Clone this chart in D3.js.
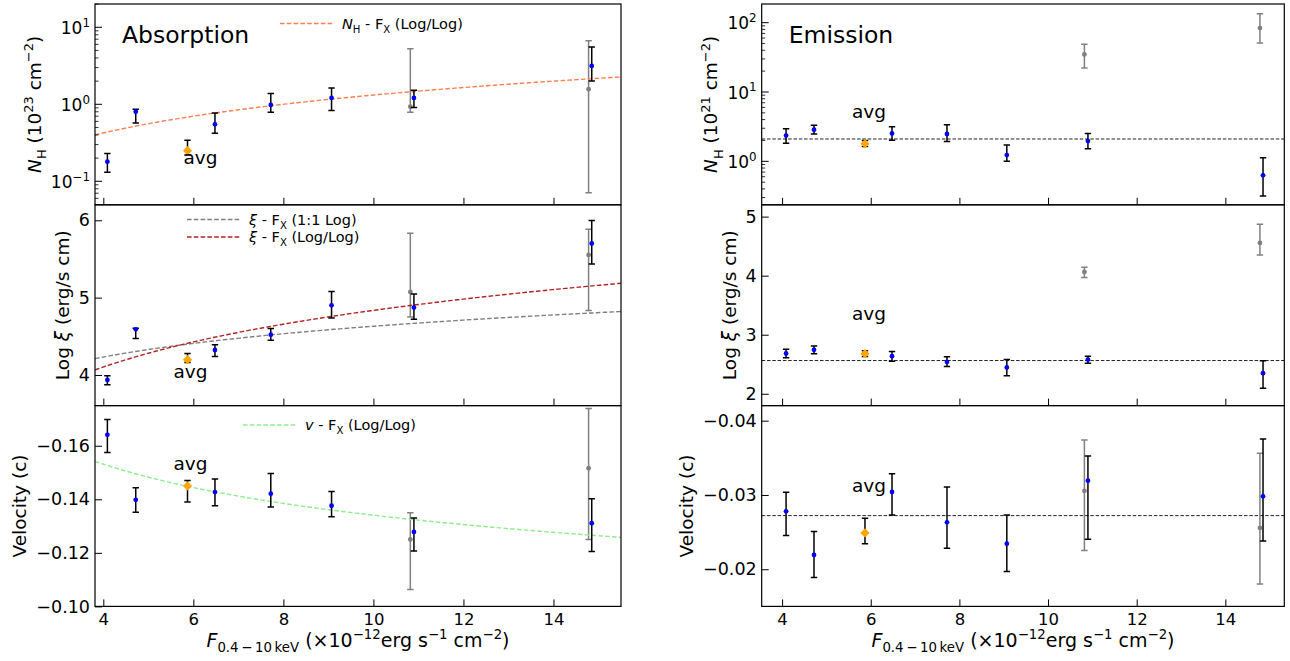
<!DOCTYPE html>
<html><head><meta charset="utf-8">
<script src="https://cdn.jsdelivr.net/npm/d3@7"></script>
<style>
html,body{margin:0;padding:0;background:#fff;}
svg{display:block;font-family:"DejaVu Sans",sans-serif;}
</style></head>
<body>
<svg id="c" width="1290" height="661"></svg>
<script>
// ---------------- DATA ----------------
const flux      = [4.09, 4.72, 6.48, 7.72, 9.07, 10.90, 14.85];
const avgFlux   = 5.87;
const grayFlux  = [10.82, 14.78];
const xTicks    = [4, 6, 8, 10, 12, 14];

// Absorption
const absNH     = [0.18, 0.80, 0.55, 0.98, 1.21, 1.21, 3.15];
const absNHlo   = [0.131, 0.57, 0.42, 0.79, 0.83, 0.91, 2.01];
const absNHhi   = [0.229, 0.86, 0.77, 1.38, 1.63, 1.52, 5.55];
const absNHavg  = [0.25, 0.22, 0.34];          // value, lo, hi
const absNHgray = [0.93, 1.57];
const absNHgrayLo = [0.79, 0.071];
const absNHgrayHi = [5.28, 6.71];

const absXi     = [3.935, 4.59, 4.323, 4.52, 4.90, 4.871, 5.70];
const absXiLo   = [3.875, 4.47, 4.24, 4.45, 4.737, 4.72, 5.435];
const absXiHi   = [3.99, 4.603, 4.39, 4.60, 5.078, 5.047, 5.996];
const absXiAvg  = [4.198, 4.16, 4.276];
const absXiGray = [5.073, 5.552];
const absXiGrayLo = [4.75, 4.832];
const absXiGrayHi = [5.832, 5.884];

const absV      = [-0.1641, -0.1398, -0.1427, -0.1421, -0.1376, -0.1278, -0.1311];
const absVLo    = [-0.1698, -0.1443, -0.1476, -0.1496, -0.1429, -0.1330, -0.1402];
const absVHi    = [-0.1575, -0.1352, -0.1376, -0.1371, -0.1335, -0.1207, -0.1205];
const absVAvg   = [-0.145, -0.147, -0.139];
const absVGray  = [-0.125, -0.1516];
const absVGrayLo = [-0.135, -0.1739];
const absVGrayHi = [-0.1063, -0.125];

// Emission
const emNH      = [2.35, 2.86, 2.53, 2.48, 1.23, 1.96, 0.628];
const emNHlo    = [1.82, 2.48, 2.01, 1.94, 1.00, 1.52, 0.316];
const emNHhi    = [2.96, 3.31, 3.16, 3.38, 1.72, 2.53, 1.13];
const emNHavg   = [1.80, 1.63, 1.99];
const emNHgray  = [34.9, 83.7];
const emNHgrayLo = [22.2, 50.9];
const emNHgrayHi = [48.7, 135];
const emNHmean  = 2.10;

const emXi      = [2.682, 2.744, 2.637, 2.54, 2.445, 2.58, 2.349];
const emXiLo    = [2.609, 2.676, 2.552, 2.462, 2.304, 2.518, 2.095];
const emXiHi    = [2.755, 2.81, 2.716, 2.626, 2.58, 2.637, 2.558];
const emXiAvg   = [2.68, 2.63, 2.73];
const emXiGray  = [4.064, 4.554];
const emXiGrayLo = [3.968, 4.351];
const emXiGrayHi = [4.143, 4.87];
const emXiMean  = 2.563;

const emV       = [-0.0278, -0.02193, -0.0304, -0.02632, -0.02345, -0.03193, -0.02982];
const emVLo     = [-0.03036, -0.02507, -0.03287, -0.03108, -0.02731, -0.03525, -0.03753];
const emVHi     = [-0.02453, -0.01888, -0.02731, -0.02283, -0.01969, -0.02404, -0.02381];
const emVAvg    = [-0.02489, -0.02686, -0.02345];
const emVGray   = [-0.03054, -0.02556];
const emVGrayLo = [-0.0374, -0.0356];
const emVGrayHi = [-0.02251, -0.01803];
const emVMean   = -0.02722;

// Fit parameters (log10 y = a + b log10 F)
const fitNH   = [-1.117, 1.237];     // N_H - F_X (Log/Log)
const fitXi11 = [3.63, 1.0];         // xi - F_X (1:1 Log)
const fitXiLL = [2.995, 1.84];       // xi - F_X (Log/Log)
const fitV    = [-0.7275, -0.1452];  // |v| - F_X (Log/Log)

// ---------------- LAYOUT ----------------
const svg = d3.select('#c');
const FONT = '"DejaVu Sans", sans-serif';
const cols = [{x0:95, x1:621, dom:[3.815, 15.50]}, {x0:761.7, x1:1284.3, dom:[3.54, 15.33]}];
const rows = [[4, 204.8], [204.8, 405.6], [405.6, 606.4]];

function rich(parent, parts, size){
  const t = parent.append('text').attr('font-size', size).attr('fill','#000');
  let shift = 0;
  parts.forEach(p => {
    const ts = t.append('tspan').text(p.t);
    const target = p.sub ? size*0.28 : (p.sup ? -size*0.42 : 0);
    if (target - shift !== 0) ts.attr('dy', target - shift);
    shift = target;
    if (p.sub || p.sup) ts.attr('font-size', size*0.7);
    if (p.it) ts.attr('font-style','italic');
  });
  return t;
}

const panels = [
  {col:0,row:0, type:'log', dom:[0.0495, 20.07], ticks:[0.1,1,10], exps:['\u22121','0','1'],
   val:absNH, lo:absNHlo, hi:absNHhi, avg:absNHavg, gv:absNHgray, glo:absNHgrayLo, ghi:absNHgrayHi,
   ylabel:[{t:'N',it:true},{t:'H',sub:true},{t:' (10'},{t:'23',sup:true},{t:' cm'},{t:'\u22122',sup:true},{t:')'}],
   avgOff:[-4,13], title:'Absorption',
   fits:[{p:fitNH, color:'#ff7f50', f:(F,p)=>Math.pow(10, p[0]+p[1]*Math.log10(F))}],
   legend:{x:280, y:23.5, items:[{color:'#ff7f50', parts:[{t:'N',it:true},{t:'H',sub:true},{t:' - F'},{t:'X',sub:true},{t:' (Log/Log)'}]}]}},
  {col:0,row:1, type:'lin', dom:[3.604, 6.20], ticks:[4,5,6], fmt:d=>String(d),
   val:absXi, lo:absXiLo, hi:absXiHi, avg:absXiAvg, gv:absXiGray, glo:absXiGrayLo, ghi:absXiGrayHi,
   ylabel:[{t:'Log '},{t:'\u03BE',it:true},{t:' (erg/s cm)'}], avgOff:[-14,18],
   fits:[{p:fitXi11, color:'#808080', f:(F,p)=>p[0]+p[1]*Math.log10(F)},
         {p:fitXiLL, color:'#b22222', f:(F,p)=>p[0]+p[1]*Math.log10(F)}],
   legend:{x:187, y:219.5, items:[
     {color:'#808080', parts:[{t:'\u03BE',it:true},{t:' - F'},{t:'X',sub:true},{t:' (1:1 Log)'}]},
     {color:'#b22222', parts:[{t:'\u03BE',it:true},{t:' - F'},{t:'X',sub:true},{t:' (Log/Log)'}]}]}},
  {col:0,row:2, type:'lin', dom:[-0.10, -0.175], ticks:[-0.16,-0.14,-0.12,-0.10], fmt:d=>d3.format('.2f')(d).replace('-','\u2212'),
   val:absV, lo:absVLo, hi:absVHi, avg:absVAvg, gv:absVGray, glo:absVGrayLo, ghi:absVGrayHi,
   ylabel:[{t:'Velocity (c)'}], avgOff:[-14,-16], xlab:true,
   fits:[{p:fitV, color:'#90ee90', f:(F,p)=>-Math.pow(10, p[0]+p[1]*Math.log10(F))}],
   legend:{x:243, y:425, items:[{color:'#90ee90', parts:[{t:'v',it:true},{t:' - F'},{t:'X',sub:true},{t:' (Log/Log)'}]}]}},
  {col:1,row:0, type:'log', dom:[0.236, 186], ticks:[1,10,100], exps:['0','1','2'],
   val:emNH, lo:emNHlo, hi:emNHhi, avg:emNHavg, gv:emNHgray, glo:emNHgrayLo, ghi:emNHgrayHi, mean:emNHmean,
   ylabel:[{t:'N',it:true},{t:'H',sub:true},{t:' (10'},{t:'21',sup:true},{t:' cm'},{t:'\u22122',sup:true},{t:')'}],
   avgOff:[-13,-25.5], title:'Emission'},
  {col:1,row:1, type:'lin', dom:[1.80, 5.20], ticks:[2,3,4,5], fmt:d=>String(d),
   val:emXi, lo:emXiLo, hi:emXiHi, avg:emXiAvg, gv:emXiGray, glo:emXiGrayLo, ghi:emXiGrayHi, mean:emXiMean,
   ylabel:[{t:'Log '},{t:'\u03BE',it:true},{t:' (erg/s cm)'}], avgOff:[-13,-33.5]},
  {col:1,row:2, type:'lin', dom:[-0.0150, -0.04203], ticks:[-0.04,-0.03,-0.02], fmt:d=>d3.format('.2f')(d).replace('-','\u2212'),
   val:emV, lo:emVLo, hi:emVHi, avg:emVAvg, gv:emVGray, glo:emVGrayLo, ghi:emVGrayHi, mean:emVMean,
   ylabel:[{t:'Velocity (c)'}], avgOff:[-13,-41], xlab:true}
];

panels.forEach((P, idx) => {
  const C = cols[P.col], R = rows[P.row];
  const x = d3.scaleLinear(C.dom, [C.x0, C.x1]);
  const y = (P.type === 'log' ? d3.scaleLog() : d3.scaleLinear()).domain(P.dom).range([R[1], R[0]]);
  const g = svg.append('g');
  const cid = 'clip' + idx;
  svg.append('clipPath').attr('id', cid).append('rect')
     .attr('x', C.x0).attr('y', R[0]).attr('width', C.x1 - C.x0).attr('height', R[1] - R[0]);
  const pg = g.append('g').attr('clip-path', `url(#${cid})`);

  if (P.mean !== undefined) {
    pg.append('line').attr('x1', C.x0).attr('x2', C.x1).attr('y1', y(P.mean)).attr('y2', y(P.mean))
      .attr('stroke', '#222').attr('stroke-width', 1).attr('stroke-dasharray', '3.5,1.8');
  }
  function ebar(gg, xv, v, lo, hi, color, fill, r) {
    const X = x(xv);
    gg.append('line').attr('x1', X).attr('x2', X).attr('y1', y(lo)).attr('y2', y(hi))
      .attr('stroke', color).attr('stroke-width', 1.5);
    [lo, hi].forEach(e => gg.append('line').attr('x1', X - 3.2).attr('x2', X + 3.2)
      .attr('y1', y(e)).attr('y2', y(e)).attr('stroke', color).attr('stroke-width', 1.5));
    if (r) gg.append('circle').attr('cx', X).attr('cy', y(v)).attr('r', r).attr('fill', fill);
  }
  P.gv.forEach((v, i) => ebar(pg, grayFlux[i], v, P.glo[i], P.ghi[i], '#808080', '#808080', 2.4));
  (P.fits || []).forEach(fd => {
    const xs = d3.range(0, 201).map(k => C.dom[0] + (C.dom[1] - C.dom[0]) * k / 200);
    const line = d3.line().x(F => x(F)).y(F => y(fd.f(F, fd.p)));
    pg.append('path').attr('d', line(xs)).attr('fill', 'none').attr('stroke', fd.color)
      .attr('stroke-width', 1.4).attr('stroke-dasharray', '4.6,2.2');
  });
  P.val.forEach((v, i) => ebar(pg, flux[i], v, P.lo[i], P.hi[i], '#000', '#0000ff', 2.4));
  ebar(pg, avgFlux, P.avg[0], P.avg[1], P.avg[2], '#000', null, 0);
  const AX = x(avgFlux), AY = y(P.avg[0]);
  pg.append('path').attr('d', `M${AX},${AY-4.6}L${AX+4.6},${AY}L${AX},${AY+4.6}L${AX-4.6},${AY}Z`).attr('fill', '#ffa500');
  g.append('text').attr('x', AX + P.avgOff[0]).attr('y', AY + P.avgOff[1]).attr('font-size', 18.5).text('avg');

  g.append('rect').attr('x', C.x0).attr('y', R[0]).attr('width', C.x1 - C.x0).attr('height', R[1] - R[0])
    .attr('fill', 'none').attr('stroke', '#000').attr('stroke-width', 1.2);

  const xa = d3.axisBottom(x).tickValues(xTicks).tickSizeInner(-7).tickSizeOuter(0).tickPadding(7)
    .tickFormat(P.xlab ? d3.format('d') : () => '');
  const xg = g.append('g').attr('transform', `translate(0,${R[1]})`).call(xa);
  xg.select('.domain').remove();
  xg.selectAll('line').attr('stroke', '#000').attr('stroke-width', 1);
  xg.selectAll('text').attr('font-size', 16.5).attr('font-family', FONT).attr('fill', '#000');

  let minTickX = C.x0;
  if (P.type === 'log') {
    const lo = Math.floor(Math.log10(P.dom[0])), hi = Math.ceil(Math.log10(P.dom[1]));
    for (let e = lo; e <= hi; e++) for (let m = 2; m <= 9; m++) {
      const v = m * Math.pow(10, e);
      if (v > P.dom[0] && v < P.dom[1])
        g.append('line').attr('x1', C.x0).attr('x2', C.x0 + 3.5).attr('y1', y(v)).attr('y2', y(v))
          .attr('stroke', '#000').attr('stroke-width', 0.8);
    }
    P.ticks.forEach((v, i) => {
      g.append('line').attr('x1', C.x0).attr('x2', C.x0 + 7).attr('y1', y(v)).attr('y2', y(v))
        .attr('stroke', '#000').attr('stroke-width', 1);
      const t = rich(g, [{t:'10'}, {t:P.exps[i], sup:true}], 17)
        .attr('text-anchor', 'end').attr('x', C.x0 - 5).attr('y', y(v) + 6.5);
      const bb = t.node().getBBox(); minTickX = Math.min(minTickX, bb.x);
    });
  } else {
    const ya = d3.axisLeft(y).tickValues(P.ticks).tickSizeInner(-7).tickSizeOuter(0).tickPadding(5).tickFormat(P.fmt);
    const yg = g.append('g').attr('transform', `translate(${C.x0},0)`).call(ya);
    yg.select('.domain').remove();
    yg.selectAll('line').attr('stroke', '#000').attr('stroke-width', 1);
    yg.selectAll('text').attr('font-size', 17.5).attr('font-family', FONT).attr('fill', '#000');
    yg.selectAll('text').each(function(){ const bb = this.getBBox(); minTickX = Math.min(minTickX, C.x0 + bb.x); });
  }
  rich(g, P.ylabel, 18.5).attr('text-anchor', 'middle')
    .attr('transform', `translate(${minTickX - 10},${(R[0] + R[1]) / 2}) rotate(-90)`);

  if (P.title) g.append('text').attr('x', C.x0 + 27).attr('y', 43).attr('font-size', 23.5).text(P.title);

  if (P.legend) {
    P.legend.items.forEach((it, k) => {
      const ly = P.legend.y + k * 17.5;
      g.append('line').attr('x1', P.legend.x).attr('x2', P.legend.x + 54).attr('y1', ly).attr('y2', ly)
        .attr('stroke', it.color).attr('stroke-width', 1.4).attr('stroke-dasharray', '4.6,2.2');
      rich(g, it.parts, 14.5).attr('x', P.legend.x + 62).attr('y', ly + 5);
    });
  }

  if (P.xlab) {
    rich(g, [{t:'F',it:true},{t:'0.4\u2009\u2212\u200910\u2009keV',sub:true},{t:' (\u00D710'},{t:'\u221212',sup:true},
             {t:'erg s'},{t:'\u22121',sup:true},{t:' cm'},{t:'\u22122',sup:true},{t:')'}], 19)
      .attr('text-anchor', 'middle').attr('x', (C.x0 + C.x1) / 2).attr('y', 647);
  }
});
</script>
</body></html>
